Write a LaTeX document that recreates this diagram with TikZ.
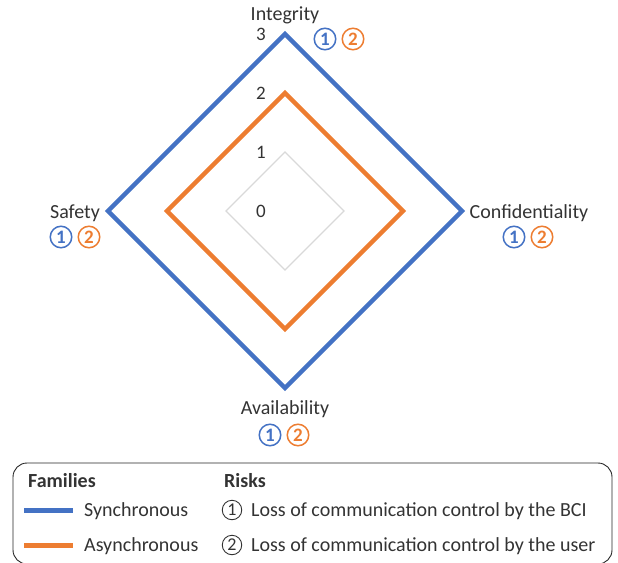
\documentclass[tikz,border=0pt]{standalone}
\usepackage{fontspec}
\setmainfont{Carlito}
\usepackage{xcolor}
\definecolor{syncblue}{HTML}{4472C4}
\definecolor{asyncorange}{HTML}{ED7D31}
\definecolor{gridgray}{HTML}{D9D9D9}
\definecolor{txtgray}{HTML}{333333}
\usetikzlibrary{positioning}

\tikzset{
  axislabel/.style={anchor=base, inner sep=0pt, text=txtgray, font=\fontsize{20}{24}\selectfont},
  ticklabel/.style={inner sep=0pt, text=txtgray, font=\fontsize{19}{24}\selectfont},
  riskmark/.style={circle, draw=#1, text=#1, line width=1.5pt, inner sep=0pt, minimum size=21.5pt, font=\fontsize{19}{19}\selectfont\bfseries},
  legendmark/.style={circle, draw=txtgray, text=txtgray, line width=0.9pt, inner sep=0pt, minimum size=19.5pt, font=\fontsize{18}{18}\selectfont},
  legendtext/.style={anchor=base west, inner sep=0pt, text=txtgray, font=\fontsize{20}{24}\selectfont},
  family/.style={line width=4.5pt, line join=miter}
}

\begin{document}
\begin{tikzpicture}[x=1pt,y=-1pt]
\useasboundingbox (0,0) rectangle (618,562);
% grid
\foreach \r in {1,2,3}
  \draw[gridgray, line width=1.2pt] (285,{211-\r*59}) -- ({285+\r*59},211) -- (285,{211+\r*59}) -- ({285-\r*59},211) -- cycle;
\foreach \r in {0,1,2,3}
  \node[ticklabel] (tick\r) at (261,{211-\r*59}) {\r};
% families
\draw[family, asyncorange] (285,93) -- (403,211) -- (285,329) -- (167,211) -- cycle;
\draw[family, syncblue] (285,34) -- (462,211) -- (285,388) -- (108,211) -- cycle;

% axes
\node[axislabel] (integrity) at (285,20.5) {Integrity};
\node[riskmark=syncblue] (int1) at (325,39) {1};
\node[riskmark=asyncorange] (int2) at (353,39) {2};

\node[axislabel] (safety) at (75,218.5) {Safety};
\node[riskmark=syncblue] (saf1) at (61,237) {1};
\node[riskmark=asyncorange] (saf2) at (89,237) {2};

\node[axislabel] (confid) at (529,218.5) {Confidentiality};
\node[riskmark=syncblue] (con1) at (514,237) {1};
\node[riskmark=asyncorange] (con2) at (542,237) {2};

\node[axislabel] (avail) at (285,414.5) {Availability};
\node[riskmark=syncblue] (ava1) at (270,435) {1};
\node[riskmark=asyncorange] (ava2) at (298,435) {2};

% legend
\draw[black!85, line width=0.9pt, rounded corners=14pt] (13,463) rectangle (612,564);
\node[legendtext, font=\fontsize{20}{24}\selectfont\bfseries] (famhead) at (28,487.5) {Families};
\node[legendtext, font=\fontsize{20}{24}\selectfont\bfseries] (riskhead) at (224,487.5) {Risks};
\draw[syncblue, line width=5pt] (24,510) -- (73,510);
\node[legendtext] (sync) at (84,516.5) {Synchronous};
\draw[asyncorange, line width=5pt] (24,545) -- (73,545);
\node[legendtext] (async) at (84,551.5) {Asynchronous};
\node[legendmark] (leg1) at (232,510) {1};
\node[legendtext] (risk1) at (251,516.5) {Loss of communication control by the BCI};
\node[legendmark] (leg2) at (232,545) {2};
\node[legendtext] (risk2) at (251,551.5) {Loss of communication control by the user};
\end{tikzpicture}
\end{document}
